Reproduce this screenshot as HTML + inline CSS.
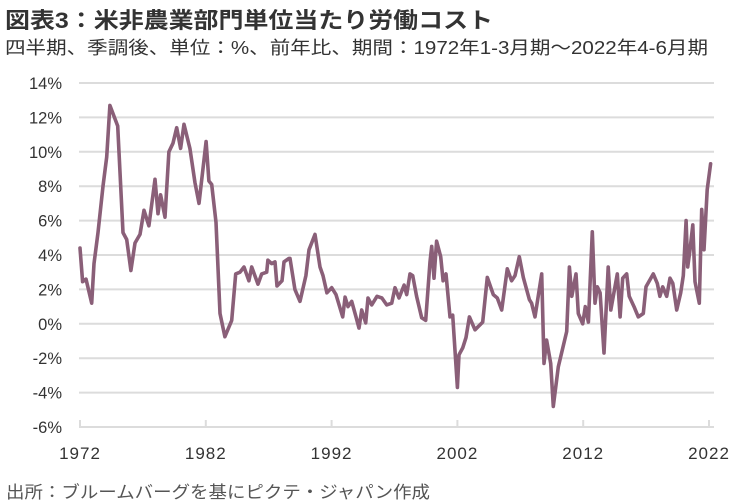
<!DOCTYPE html>
<html><head><meta charset="utf-8">
<style>
html,body{margin:0;padding:0;background:#fff;}
body{width:751px;height:503px;overflow:hidden;position:relative;font-family:"Liberation Sans","Noto Sans CJK JP",sans-serif;}
.fit{position:absolute;white-space:nowrap;transform-origin:0 50%;}
#title{left:5px;top:3px;font-size:22px;font-weight:bold;color:#333;}
#sub{left:5px;top:34px;font-size:18px;color:#333;}
#src{left:6px;top:478px;font-size:17px;color:#555;}
svg{position:absolute;left:0;top:0;}
</style></head><body>
<div id="title" class="fit">図表3：米非農業部門単位当たり労働コスト</div>
<div id="sub" class="fit">四半期、季調後、単位：%、前年比、期間：1972年1-3月期～2022年4-6月期</div>
<svg id="chart" width="751" height="503"></svg>
<div id="src" class="fit">出所：ブルームバーグを基にピクテ・ジャパン作成</div>
<script>
const yTicks=[14,12,10,8,6,4,2,0,-2,-4,-6];
const yTickLabels=["14%","12%","10%","8%","6%","4%","2%","0%","-2%","-4%","-6%"];
const xTicks=[1972,1982,1992,2002,2012,2022];
const xTickLabels=["1972","1982","1992","2002","2012","2022"];
const dates=[1972.0,1972.21,1972.48,1972.93,1973.11,1973.43,1973.83,1974.12,1974.38,1975.0,1975.42,1975.71,1976.05,1976.37,1976.77,1977.09,1977.48,1977.96,1978.2,1978.41,1978.76,1979.07,1979.39,1979.69,1980.0,1980.27,1980.74,1981.14,1981.46,1982.02,1982.25,1982.47,1982.81,1983.13,1983.52,1984.06,1984.38,1984.72,1985.04,1985.43,1985.65,1986.15,1986.44,1986.84,1986.94,1987.24,1987.5,1987.66,1988.06,1988.22,1988.61,1988.69,1989.08,1989.49,1989.96,1990.2,1990.68,1991.08,1991.32,1991.63,1992.01,1992.35,1992.88,1993.07,1993.3,1993.6,1993.94,1994.18,1994.39,1994.71,1994.89,1995.19,1995.61,1996.0,1996.38,1996.78,1997.04,1997.36,1997.76,1997.97,1998.23,1998.45,1998.76,1999.16,1999.48,1999.82,1999.96,2000.14,2000.35,2000.67,2000.86,2001.09,2001.41,2001.63,2002.0,2002.13,2002.42,2002.68,2002.95,2003.4,2004.01,2004.38,2004.85,2005.17,2005.52,2005.97,2006.31,2006.58,2006.92,2007.24,2007.72,2007.9,2008.17,2008.7,2008.88,2009.09,2009.42,2009.62,2010.02,2010.69,2010.9,2011.09,2011.43,2011.61,2011.96,2012.17,2012.41,2012.72,2012.94,2013.12,2013.34,2013.65,2013.99,2014.19,2014.71,2014.93,2015.14,2015.46,2015.66,2016.04,2016.38,2016.78,2016.99,2017.57,2017.89,2018.1,2018.32,2018.64,2018.9,2019.12,2019.43,2019.75,2019.96,2020.18,2020.31,2020.49,2020.71,2020.89,2021.23,2021.42,2021.6,2021.86,2022.13];
const values=[4.4,2.45,2.6,1.2,3.5,5.3,8.0,9.7,12.7,11.5,5.3,4.9,3.1,4.7,5.2,6.6,5.7,8.4,6.4,7.5,6.2,10.0,10.5,11.4,10.2,11.6,10.2,8.2,7.0,10.6,8.3,8.1,5.9,0.6,-0.75,0.2,2.9,3.0,3.3,2.5,3.3,2.3,2.9,3.0,3.7,3.5,3.6,2.2,2.5,3.6,3.8,3.8,2.0,1.3,2.8,4.3,5.2,3.3,2.8,1.8,2.1,1.7,0.4,1.55,1.0,1.3,0.4,-0.25,0.8,0.05,1.5,1.1,1.6,1.5,1.1,1.2,2.1,1.5,2.25,1.7,2.9,2.8,1.6,0.35,0.2,3.6,4.5,2.65,4.8,3.9,2.5,2.9,0.4,0.5,-3.7,-1.8,-1.4,-0.8,0.4,-0.35,0.1,2.7,1.7,1.5,0.8,3.2,2.5,2.8,3.9,2.7,1.4,1.2,0.4,2.9,-2.3,-0.95,-2.3,-4.8,-2.5,-0.45,3.3,1.6,2.9,0.6,0.0,1.0,0.1,5.35,1.2,2.15,1.8,-1.7,3.3,0.8,2.9,0.4,2.65,2.9,1.6,1.0,0.4,0.6,2.15,2.9,2.35,1.6,2.15,1.6,2.65,2.35,0.8,1.8,2.8,6.0,3.3,4.3,5.75,2.45,1.2,6.65,4.3,7.8,9.3];

const NS="http://www.w3.org/2000/svg";
const svg=document.getElementById('chart');
const X0=80,PX_PER_YEAR=12.58,Y0=323.8,PX_PER_PCT=17.2,GRID_L=79,GRID_R=714;
function xs(yr){return X0+(yr-1972)*PX_PER_YEAR;}
function ys(v){return Y0-v*PX_PER_PCT;}
function mk(tag,attrs){const e=document.createElementNS(NS,tag);for(const k in attrs)e.setAttribute(k,attrs[k]);svg.appendChild(e);return e;}

yTicks.forEach((t,i)=>{
  const g=mk('line',{x1:GRID_L,x2:GRID_R,y1:ys(t),y2:ys(t),stroke:'#dcdcdc','stroke-width':2});
  
  
  const tx=mk('text',{x:62,y:ys(t)+6,'text-anchor':'end','font-size':16.5,fill:'#333','font-family':'Liberation Sans Narrow, Liberation Sans, sans-serif'});
  tx.textContent=yTickLabels[i];
  
  
});
xTicks.forEach((t,i)=>{
  const tk=mk('line',{x1:xs(t),x2:xs(t),y1:ys(-6)-7,y2:ys(-6),stroke:'#dcdcdc','stroke-width':2});
  
  
  const tx=mk('text',{x:xs(t),y:459,'text-anchor':'middle','font-size':17,fill:'#333','letter-spacing':'1','font-family':'Liberation Sans Narrow, Liberation Sans, sans-serif'});
  tx.textContent=xTickLabels[i];
  
  
});
let d='';
dates.forEach((t,i)=>{d+=(i?'L':'M')+xs(t).toFixed(1)+','+ys(values[i]).toFixed(1);});
const line=mk('path',{d:d,fill:'none',stroke:'#8a5f78','stroke-width':3.6,'stroke-linejoin':'round','stroke-linecap':'round'});



function fit(id,targetRight){
  const el=document.getElementById(id);
  const r=el.getBoundingClientRect();
  const s=(targetRight-r.left)/r.width;
  el.style.transform='scaleX('+s+')';
}
fit('title',493);
fit('sub',708);
fit('src',430);
</script>
</body></html>
